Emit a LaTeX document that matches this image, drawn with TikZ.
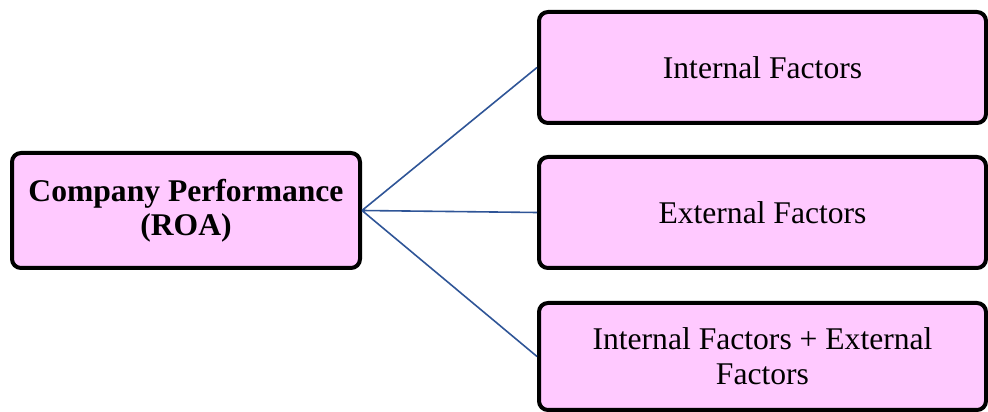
\documentclass[tikz,border=0pt]{standalone}
\usepackage{fontspec}
\setmainfont{Liberation Serif}
\usetikzlibrary{positioning}
\definecolor{boxpink}{RGB}{255,201,255}
\definecolor{linkblue}{RGB}{47,85,151}

\begin{document}
\begin{tikzpicture}[x=1pt, y=1pt,
    factor/.style={rectangle, draw=black, line width=4pt, fill=boxpink,
        rounded corners=9pt, inner sep=0pt, align=center,
        minimum width=447pt, minimum height=111pt,
        font=\fontsize{31.6}{35}\selectfont},
    link/.style={draw=linkblue, line width=1.6pt}]
                \useasboundingbox (0,0) rectangle (988,412);
                \node[factor, minimum width=348pt, minimum height=115pt,
                    font=\fontsize{31.6}{34}\selectfont\bfseries]
                    (roa) at (186,201.5) {Company Performance\\(ROA)};
                \node[factor] (int) at (762.5,344.5) {Internal Factors};
                \node[factor] (ext) at (762.5,199.5) {External Factors};
                \node[factor, minimum height=107pt] (both) at (762.5,55.5)
                    {Internal Factors + External\\Factors};
                \draw [link]
                    (roa.east) -- (int.west)
                    (roa.east) -- (ext.west)
                    (roa.east) -- (both.west);
            \end{tikzpicture}
\end{document}
